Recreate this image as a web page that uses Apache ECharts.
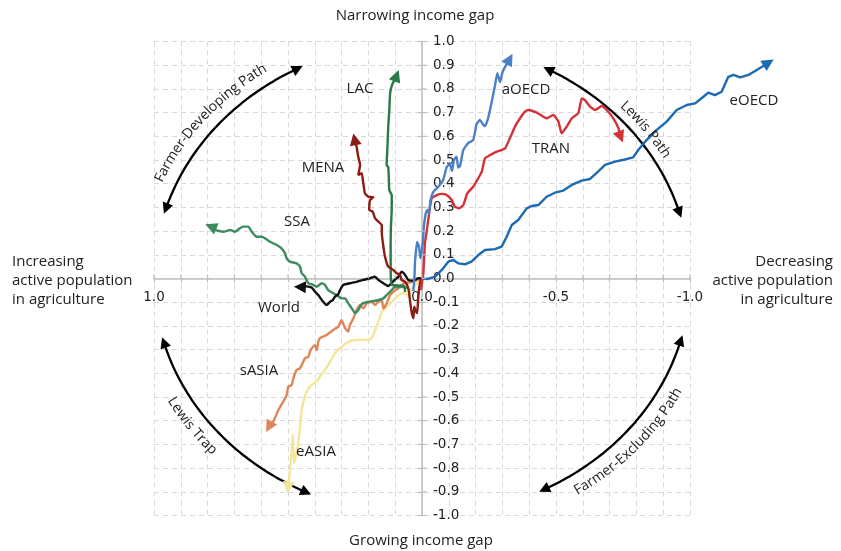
<!DOCTYPE html>
<html><head><meta charset="utf-8">
<script src="https://cdn.jsdelivr.net/npm/echarts@6/dist/echarts.min.js"></script>
<style>html,body{margin:0;padding:0;background:#fff}#c{width:841px;height:551px}</style>
</head><body><div id="c"></div>
<script>
// ---------- data (x: change of agricultural population share, reversed axis; y: income gap) ----------
const xTickLabels = ['1.0', '0.0', '-0.5', '-1.0'];
const seriesNames = ['eASIA', 'sASIA', 'SSA', 'World', 'LAC', 'MENA', 'eOECD', 'TRAN', 'aOECD'];

const eOECD = [[0,0],[-0.022,-0.002],[-0.049,0.008],[-0.074,0.036],[-0.098,0.071],[-0.117,0.078],[-0.135,0.064],[-0.160,0.060],[-0.185,0.071],[-0.210,0.099],[-0.235,0.120],[-0.272,0.124],[-0.297,0.134],[-0.316,0.176],[-0.335,0.226],[-0.359,0.247],[-0.391,0.296],[-0.409,0.306],[-0.434,0.310],[-0.465,0.345],[-0.496,0.362],[-0.527,0.371],[-0.559,0.395],[-0.596,0.413],[-0.627,0.420],[-0.652,0.446],[-0.683,0.479],[-0.720,0.493],[-0.757,0.502],[-0.788,0.511],[-0.807,0.542],[-0.838,0.584],[-0.876,0.627],[-0.913,0.662],[-0.950,0.711],[-0.988,0.732],[-1.019,0.739],[-1.050,0.767],[-1.068,0.784],[-1.093,0.774],[-1.118,0.788],[-1.143,0.851],[-1.162,0.859],[-1.187,0.849],[-1.218,0.859],[-1.249,0.880],[-1.280,0.901],[-1.295,0.912]];

const aOECD = [[0.032,-0.053],[0.028,0.011],[0.026,0.070],[0.022,0.120],[0.018,0.154],[0.011,0.133],[0.006,0.086],[0.002,0.108],[-0.003,0.150],[-0.007,0.217],[-0.014,0.275],[-0.020,0.289],[-0.026,0.275],[-0.032,0.331],[-0.042,0.365],[-0.061,0.387],[-0.079,0.416],[-0.092,0.470],[-0.104,0.483],[-0.112,0.454],[-0.119,0.500],[-0.129,0.514],[-0.135,0.468],[-0.142,0.475],[-0.154,0.542],[-0.173,0.572],[-0.191,0.584],[-0.204,0.652],[-0.216,0.669],[-0.229,0.648],[-0.235,0.643],[-0.247,0.677],[-0.260,0.745],[-0.272,0.812],[-0.281,0.866],[-0.291,0.829],[-0.301,0.873],[-0.316,0.905],[-0.328,0.928]];

const TRAN = [[0.004,-0.049],[-0.005,0.023],[-0.011,0.149],[-0.020,0.219],[-0.030,0.303],[-0.036,0.338],[-0.055,0.352],[-0.074,0.357],[-0.092,0.352],[-0.111,0.331],[-0.123,0.303],[-0.139,0.296],[-0.154,0.310],[-0.169,0.359],[-0.191,0.387],[-0.210,0.423],[-0.223,0.451],[-0.235,0.507],[-0.254,0.521],[-0.279,0.535],[-0.310,0.549],[-0.328,0.592],[-0.347,0.641],[-0.366,0.676],[-0.384,0.704],[-0.397,0.711],[-0.428,0.700],[-0.465,0.676],[-0.490,0.690],[-0.509,0.662],[-0.521,0.613],[-0.540,0.641],[-0.559,0.676],[-0.583,0.697],[-0.596,0.760],[-0.608,0.753],[-0.627,0.725],[-0.646,0.711],[-0.671,0.728],[-0.689,0.711],[-0.714,0.676],[-0.733,0.634],[-0.742,0.595]];

const LAC = [[0.063,-0.057],[0.067,-0.032],[0.112,-0.027],[0.116,-0.006],[0.117,0.078],[0.117,0.150],[0.116,0.217],[0.113,0.289],[0.113,0.352],[0.122,0.373],[0.124,0.428],[0.126,0.470],[0.132,0.479],[0.129,0.555],[0.126,0.639],[0.122,0.711],[0.119,0.781],[0.112,0.816],[0.094,0.858]];

const MENA = [[0.004,-0.002],[0.010,-0.036],[0.014,-0.082],[0.018,-0.146],[0.022,-0.140],[0.029,-0.119],[0.032,-0.168],[0.038,-0.147],[0.045,-0.091],[0.051,-0.041],[0.063,-0.014],[0.076,-0.006],[0.082,0.015],[0.094,0.022],[0.107,0.036],[0.126,0.050],[0.138,0.092],[0.144,0.134],[0.150,0.191],[0.150,0.226],[0.163,0.240],[0.175,0.254],[0.184,0.282],[0.197,0.289],[0.194,0.331],[0.182,0.343],[0.200,0.345],[0.213,0.359],[0.219,0.402],[0.225,0.444],[0.238,0.437],[0.231,0.479],[0.238,0.514],[0.244,0.556],[0.252,0.590]];

const SSA = [[0.052,-0.040],[0.071,-0.036],[0.101,-0.035],[0.113,-0.049],[0.132,-0.070],[0.144,-0.084],[0.169,-0.093],[0.200,-0.098],[0.225,-0.108],[0.238,-0.133],[0.250,-0.146],[0.262,-0.126],[0.275,-0.105],[0.287,-0.084],[0.300,-0.084],[0.318,-0.070],[0.331,-0.062],[0.350,-0.049],[0.362,-0.027],[0.374,-0.020],[0.393,-0.035],[0.406,-0.027],[0.424,-0.020],[0.437,0.008],[0.449,0.022],[0.455,0.050],[0.468,0.064],[0.493,0.071],[0.505,0.085],[0.511,0.106],[0.524,0.127],[0.542,0.141],[0.567,0.155],[0.586,0.170],[0.598,0.176],[0.617,0.176],[0.635,0.197],[0.648,0.219],[0.667,0.219],[0.679,0.212],[0.698,0.197],[0.716,0.205],[0.741,0.197],[0.772,0.205],[0.790,0.220]];

const World = [[0,0],[0.014,0.001],[0.032,-0.009],[0.051,-0.006],[0.063,0.015],[0.076,0.029],[0.088,0.008],[0.107,-0.011],[0.126,-0.032],[0.144,-0.020],[0.163,-0.006],[0.175,0.008],[0.194,0.001],[0.219,-0.006],[0.244,-0.014],[0.269,-0.020],[0.294,-0.027],[0.306,-0.049],[0.312,-0.065],[0.325,-0.077],[0.333,-0.091],[0.343,-0.098],[0.356,-0.112],[0.374,-0.091],[0.387,-0.070],[0.399,-0.056],[0.412,-0.038],[0.437,-0.032],[0.458,-0.036]];

const sASIA = [[0.007,-0.002],[0.037,-0.015],[0.063,-0.019],[0.076,-0.027],[0.088,-0.041],[0.107,-0.056],[0.119,-0.070],[0.132,-0.105],[0.144,-0.126],[0.150,-0.091],[0.163,-0.098],[0.175,-0.112],[0.188,-0.098],[0.206,-0.105],[0.219,-0.126],[0.231,-0.112],[0.244,-0.133],[0.256,-0.168],[0.269,-0.196],[0.275,-0.224],[0.287,-0.210],[0.300,-0.175],[0.312,-0.203],[0.331,-0.217],[0.356,-0.238],[0.381,-0.252],[0.387,-0.267],[0.393,-0.302],[0.399,-0.281],[0.412,-0.295],[0.418,-0.309],[0.424,-0.330],[0.437,-0.337],[0.443,-0.351],[0.455,-0.379],[0.468,-0.386],[0.480,-0.421],[0.486,-0.449],[0.499,-0.457],[0.505,-0.492],[0.518,-0.520],[0.536,-0.555],[0.555,-0.604],[0.572,-0.628]];

const eASIA = [[0.004,-0.002],[0.020,-0.023],[0.037,-0.040],[0.051,-0.077],[0.063,-0.061],[0.082,-0.065],[0.094,-0.078],[0.113,-0.099],[0.132,-0.120],[0.150,-0.141],[0.163,-0.184],[0.175,-0.217],[0.188,-0.252],[0.206,-0.259],[0.231,-0.259],[0.262,-0.262],[0.287,-0.276],[0.306,-0.295],[0.325,-0.316],[0.343,-0.351],[0.362,-0.386],[0.381,-0.414],[0.393,-0.435],[0.412,-0.449],[0.424,-0.463],[0.437,-0.499],[0.449,-0.555],[0.455,-0.625],[0.462,-0.695],[0.470,-0.745],[0.478,-0.780],[0.482,-0.660],[0.486,-0.724],[0.493,-0.808],[0.500,-0.885]];

// guide arcs on the unit circle (angles in degrees, start -> end)
const arcNames = ['Farmer-Developing Path', 'Lewis Path', 'Lewis Trap', 'Farmer-Excluding Path'];
const arcAngles = [[17, 62.5], [118, 164], [-15.5, -64.5], [-117, -165]];

// ---------- styling ----------
const colors = {eASIA:'#f6e49b', sASIA:'#e0845a', SSA:'#3e8b5d', World:'#111111', LAC:'#2a7949', MENA:'#8c1d12', eOECD:'#1c6ab1', TRAN:'#d2333a', aOECD:'#4b80c9'};
const dataMap = {eOECD, aOECD, TRAN, LAC, MENA, SSA, World, sASIA, eASIA};
const FONT = 'Open Sans';
const TXT = '#222222';
const LW = 2.4;
const AXMIN = -1, AXMAX = 1, AXSTEP = 0.1;

function arcPoints(a0, a1, r) {
  const pts = [], n = Math.max(2, Math.round(Math.abs(a1 - a0)));
  for (let i = 0; i <= n; i++) {
    const t = (a0 + (a1 - a0) * i / n) * Math.PI / 180;
    pts.push([r * Math.cos(t), r * Math.sin(t)]);
  }
  return pts;
}

const chart = echarts.init(document.getElementById('c'), null, {renderer: 'canvas'});
const fmt = v => (Math.round(v * 10) / 10).toFixed(1);

const series = [];
arcAngles.forEach((a, i) => {
  series.push({type:'line', name:'arc' + i, data: arcPoints(a[0], a[1], 1.0), showSymbol:false, smooth:true,
    lineStyle:{color:'#000', width:2.3}, silent:true, clip:false, z:3});
});
seriesNames.forEach(n => {
  if (n === 'eOECD') {
    // runs beyond the right end of the axis: 'lines' series is not clipped horizontally
    series.push({type:'lines', name:n, coordinateSystem:'cartesian2d', polyline:true, clip:false, silent:true, z:4,
      data:[{coords:dataMap[n]}], lineStyle:{color:colors[n], width:LW, opacity:1, join:'round'}});
  } else {
    series.push({type:'line', name:n, data:dataMap[n], showSymbol:false, smooth:0.15,
      lineStyle:{color:colors[n], width:LW}, itemStyle:{color:colors[n]}, silent:true, clip:false, z:4});
  }
});

const axisGrey = '#bdbdbd';
const option = {
  animation: false,
  grid: {left:154, right:151, top:41.5, bottom:35.5, containLabel:false},
  xAxis: {type:'value', min:AXMIN, max:AXMAX, interval:AXSTEP, inverse:true, position:'bottom', offset:0,
    axisLine:{onZero:false, lineStyle:{color:axisGrey, width:1.5}},
    axisTick:{show:true, length:4, lineStyle:{color:axisGrey, width:1.2}},
    axisLabel:{interval:0, margin:12, color:TXT, fontFamily:'DejaVu Sans', fontSize:13.5,
      formatter: v => { const s = fmt(v); return xTickLabels.includes(s) ? s : ''; }},
    splitLine:{show:true, lineStyle:{color:'#d9d9d9', type:[5,4], width:1}}},
  yAxis: {type:'value', min:AXMIN, max:AXMAX, interval:AXSTEP, position:'left', offset:0,
    axisLine:{onZero:false, lineStyle:{color:axisGrey, width:1.5}},
    axisTick:{show:true, length:4, lineStyle:{color:axisGrey, width:1.2}},
    axisLabel:{inside:true, margin:11, align:'left', color:TXT, fontFamily:'DejaVu Sans', fontSize:13.5, formatter: fmt},
    splitLine:{show:true, lineStyle:{color:'#d9d9d9', type:[5,4], width:1}}},
  series
};
chart.setOption(option);

// move both axes (line, ticks, labels) to cross at (0, 0), using the chart's own scales
const toPx = p => chart.convertToPixel({gridIndex:0}, p);
const zeroPx = toPx([0, 0]);
const yBottom = toPx([0, -1])[1];
const xLeft = toPx([1, 0])[0];
chart.setOption({xAxis: {offset: zeroPx[1] - yBottom}, yAxis: {offset: xLeft - zeroPx[0]}});

// ---------- annotations (computed through the chart's own scales) ----------
const graphics = [];

// second half of the crossing tick marks (inner side of each axis)
const nTicks = Math.round((AXMAX - AXMIN) / AXSTEP);
for (let i = 0; i <= nTicks; i++) {
  const v = AXMIN + i * AXSTEP;
  const px = toPx([v, 0]), py = toPx([0, v]);
  graphics.push({type:'line', silent:true, z:40, shape:{x1:px[0], y1:px[1], x2:px[0], y2:px[1] - 4}, style:{stroke:axisGrey, lineWidth:1.2}});
  graphics.push({type:'line', silent:true, z:40, shape:{x1:py[0], y1:py[1], x2:py[0] + 4, y2:py[1]}, style:{stroke:axisGrey, lineWidth:1.2}});
}

function arrowHead(pFrom, pEnd, color, len, halfW) {
  const dx = pEnd[0] - pFrom[0], dy = pEnd[1] - pFrom[1];
  const d = Math.hypot(dx, dy) || 1, ux = dx / d, uy = dy / d;
  const tip = [pEnd[0] + ux * len * 0.45, pEnd[1] + uy * len * 0.45];
  const bx = tip[0] - ux * len, by = tip[1] - uy * len;
  graphics.push({type:'polygon', silent:true, z:50,
    shape:{points:[tip, [bx - uy * halfW, by + ux * halfW], [bx + uy * halfW, by - ux * halfW]]},
    style:{fill:color}});
}

seriesNames.forEach(n => {
  const d = dataMap[n];
  arrowHead(toPx(d[d.length - 3]), toPx(d[d.length - 1]), colors[n], 12, 6);
});
arcAngles.forEach(a => {
  const s = a[1] > a[0] ? 1 : -1;
  const b0 = arcPoints(a[0] + s * 4, a[0], 1.0), b1 = arcPoints(a[1] - s * 4, a[1], 1.0);
  arrowHead(toPx(b0[0]), toPx(b0[b0.length - 1]), '#000', 11, 5.5);
  arrowHead(toPx(b1[0]), toPx(b1[b1.length - 1]), '#000', 11, 5.5);
});

// series labels
const labelPos = {LAC:[360,89], MENA:[323,168], SSA:[297,222], World:[279,308], sASIA:[259,371], eASIA:[316,452], aOECD:[526,90], TRAN:[551,149], eOECD:[754,101]};
seriesNames.forEach(n => {
  graphics.push({type:'text', x:labelPos[n][0], y:labelPos[n][1], silent:true, z:60,
    style:{text:n, fill:TXT, font:'15px "' + FONT + '"', align:'center', verticalAlign:'middle'}});
});

// axis titles
graphics.push({type:'text', x:415, y:16, silent:true, z:60, style:{text:'Narrowing income gap', fill:TXT, font:'15px "' + FONT + '"', align:'center', verticalAlign:'middle'}});
graphics.push({type:'text', x:421, y:541, silent:true, z:60, style:{text:'Growing income gap', fill:TXT, font:'15px "' + FONT + '"', align:'center', verticalAlign:'middle'}});
graphics.push({type:'text', x:12, y:252, silent:true, z:60, style:{text:'Increasing\nactive population\nin agriculture', fill:TXT, font:'15px "' + FONT + '"', lineHeight:19, align:'left', verticalAlign:'top'}});
graphics.push({type:'text', x:833, y:252, silent:true, z:60, style:{text:'Decreasing\nactive population\nin agriculture', fill:TXT, font:'15px "' + FONT + '"', lineHeight:19, align:'right', verticalAlign:'top'}});

// curved arc labels along the unit ellipse
const arcLabelCfg = [
  {theta:40, r:1.065, dir:1},
  {theta:143, r:1.05, dir:1},
  {theta:-36, r:1.065, dir:-1},
  {theta:-138, r:1.065, dir:-1}
];
const ctx = document.createElement('canvas').getContext('2d');
const arcFont = '14px "' + FONT + '"';
ctx.font = arcFont;
const c0 = toPx([0, 0]), cx1 = toPx([1, 0]), cy1 = toPx([0, 1]);
const A = cx1[0] - c0[0]; // pixel length of +1 on x (negative: axis reversed)
const B = c0[1] - cy1[1];
function ell(thDeg, r) {
  const t = thDeg * Math.PI / 180;
  return [c0[0] + A * r * Math.cos(t), c0[1] - B * r * Math.sin(t)];
}
arcNames.forEach((txt, i) => {
  const cfg = arcLabelCfg[i];
  const total = ctx.measureText(txt).width;
  const step = 0.05 * cfg.dir;
  function advance(th, dist) {
    let s = 0, t = th, p = ell(t, cfg.r);
    const sg = dist >= 0 ? 1 : -1;
    while (s < Math.abs(dist)) {
      const t2 = t + step * sg;
      const p2 = ell(t2, cfg.r);
      s += Math.hypot(p2[0] - p[0], p2[1] - p[1]);
      t = t2; p = p2;
    }
    return t;
  }
  let cum = -total / 2;
  for (const ch of txt) {
    const w = ctx.measureText(ch).width;
    const th = advance(cfg.theta, cum + w / 2);
    const p = ell(th, cfg.r);
    const pa = ell(th - step * 4, cfg.r), pb = ell(th + step * 4, cfg.r);
    const rot = Math.atan2(-(pb[1] - pa[1]), pb[0] - pa[0]);
    graphics.push({type:'text', x:p[0], y:p[1], rotation:rot, silent:true, z:60,
      style:{text:ch, fill:TXT, font:arcFont, align:'center', verticalAlign:'middle'}});
    cum += w;
  }
});

chart.setOption({graphic: graphics});
</script>
</body></html>
